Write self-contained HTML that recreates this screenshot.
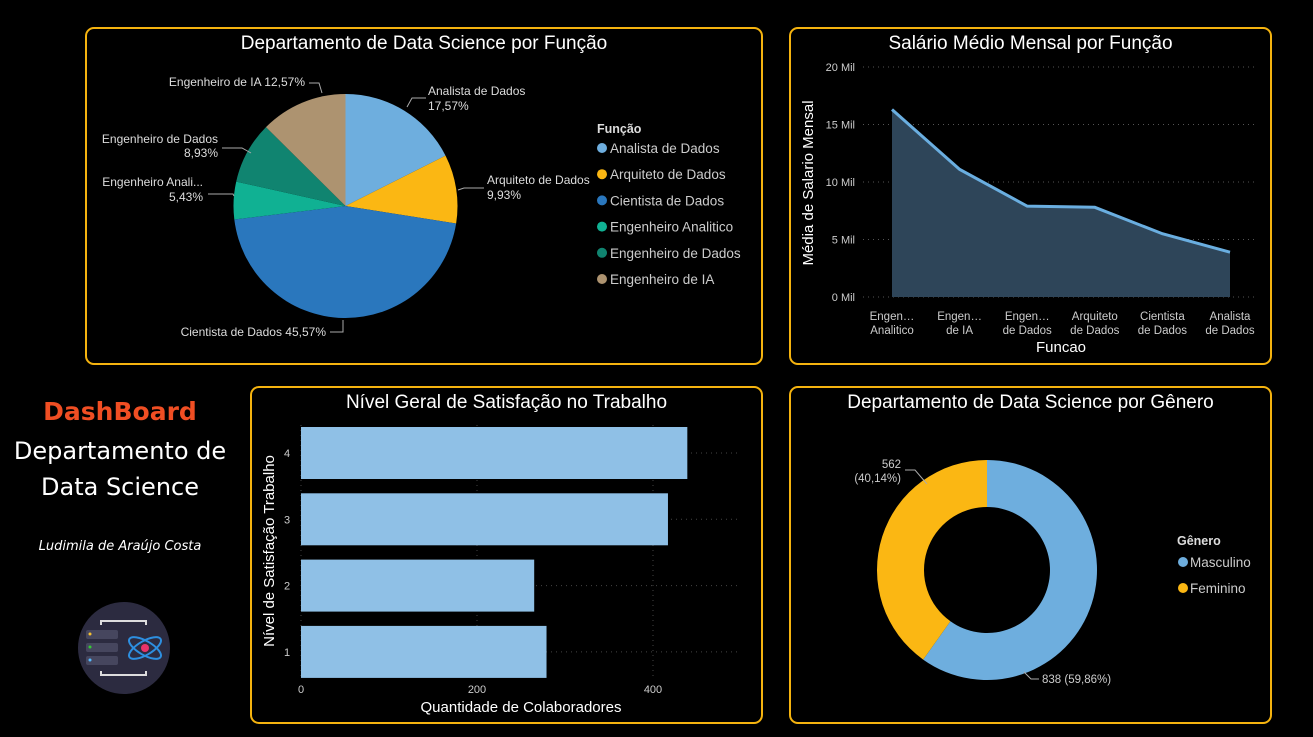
<!DOCTYPE html>
<html><head><meta charset="utf-8"><style>
body{margin:0;background:#000;width:1313px;height:737px;overflow:hidden;font-family:"Liberation Sans",Arial,sans-serif;position:relative}
.panel{position:absolute;border:2px solid #f5b30f;border-radius:9px;box-sizing:border-box}
.title{position:absolute;left:0;right:0;text-align:center;color:#fff;font-size:19px;top:4px}
svg{position:absolute;left:0;top:0}
svg text{font-family:"Liberation Sans",Arial,sans-serif}
</style></head><body>
<div class="panel" style="left:85px;top:27px;width:678px;height:338px"><div class="title">Departamento de Data Science por Função</div></div>
<div class="panel" style="left:789px;top:27px;width:483px;height:338px"><div class="title">Salário Médio Mensal por Função</div></div>
<div class="panel" style="left:250px;top:386px;width:513px;height:338px"><div class="title">Nível Geral de Satisfação no Trabalho</div></div>
<div class="panel" style="left:789px;top:386px;width:483px;height:338px"><div class="title">Departamento de Data Science por Gênero</div></div>

<div style="position:absolute;left:0;width:240px;top:397px;text-align:center;color:#f04e23;font-size:25px;font-weight:bold;font-family:'Comic Sans MS','DejaVu Sans',sans-serif">DashBoard</div>
<div style="position:absolute;left:0;width:240px;top:433px;text-align:center;color:#fff;font-size:24px;line-height:36px;font-family:'Comic Sans MS','DejaVu Sans',sans-serif">Departamento de<br>Data Science</div>
<div style="position:absolute;left:0;width:240px;top:539px;text-align:center;color:#fff;font-size:13px;font-style:italic;font-family:'Comic Sans MS','DejaVu Sans',sans-serif">Ludimila de Araújo Costa</div>

<svg width="1313" height="737" id="s">
<g>
<circle cx="124" cy="648" r="46" fill="#2c2b40"/>
<path d="M101 625v-4h45v4M101 671v4h45v-4" stroke="#ddd" stroke-width="2" fill="none"/>
<rect x="86" y="630" width="32" height="9" rx="2" fill="#46465e"/><rect x="86" y="643" width="32" height="9" rx="2" fill="#46465e"/><rect x="86" y="656" width="32" height="9" rx="2" fill="#46465e"/>
<circle cx="90" cy="634" r="1.5" fill="#f5c030"/><circle cx="90" cy="647" r="1.5" fill="#3c3"/><circle cx="90" cy="660" r="1.5" fill="#5bf"/>
<ellipse cx="145" cy="648" rx="18" ry="7" stroke="#2d8fe0" stroke-width="2" fill="none" transform="rotate(30 145 648)"/>
<ellipse cx="145" cy="648" rx="18" ry="7" stroke="#2d8fe0" stroke-width="2" fill="none" transform="rotate(-30 145 648)"/>
<circle cx="145" cy="648" r="4" fill="#e8336a"/>
</g>
</svg>
<script>
const NS="http://www.w3.org/2000/svg",S=document.getElementById('s');
function el(t,a,p){const e=document.createElementNS(NS,t);for(const k in a)e.setAttribute(k,a[k]);(p||S).appendChild(e);return e;}
function tx(x,y,s,a){const e=el('text',Object.assign({x:x,y:y,fill:'#ddd','font-size':12},a||{}));e.textContent=s;return e;}

// ---------- Pie ----------
const pieCats=["Analista de Dados","Arquiteto de Dados","Cientista de Dados","Engenheiro Analitico","Engenheiro de Dados","Engenheiro de IA"];
const pieVals=[17.57,9.93,45.57,5.43,8.93,12.57];
const pieColors=["#6eaede","#fbb713","#2a77bd","#10b193","#108470","#ad9370"];
(function(){
 const cx=345.5,cy=206,r=112;let a=0;const tot=pieVals.reduce((p,c)=>p+c,0);
 pieVals.forEach((v,i)=>{
  const a0=a/tot*2*Math.PI,a1=(a+v)/tot*2*Math.PI;a+=v;
  const x0=cx+r*Math.sin(a0),y0=cy-r*Math.cos(a0),x1=cx+r*Math.sin(a1),y1=cy-r*Math.cos(a1);
  const p=el('path',{d:`M${cx} ${cy}L${x0} ${y0}A${r} ${r} 0 ${a1-a0>Math.PI?1:0} 1 ${x1} ${y1}Z`,fill:pieColors[i]});
  
  
 });
 const lab=[[428,95,"Analista de Dados",428,110,pieVals[0],"M407 107l5-9h14"],[487,184,"Arquiteto de Dados",487,199,pieVals[1],"M458 190l6-2h20"],
  [326,336,"Cientista de Dados "+"45,57%",null,null,null,"M330 332h13v-12"],[203,186,"Engenheiro Anali...",203,201,pieVals[3],"M208 194h25l1 2"],
  [218,143,"Engenheiro de Dados",218,157,pieVals[4],"M222 148h20l9 5"],[305,86,"Engenheiro de IA 12,57%",null,null,null,"M309 83h10l3 10"]];
 lab.forEach((l,i)=>{
  el('path',{d:l[6],stroke:'#aaa',fill:'none'});
  const anchor=(i==0||i==1)?'start':'end';
  tx(l[0],l[1],l[2],{'text-anchor':anchor,'font-size':12});
  if(l[3])tx(l[3],l[4],l[5].toFixed(2).replace('.',',')+'%',{'text-anchor':anchor,'font-size':12});
 });
 tx(597,133,"Função",{'font-weight':'bold','font-size':12.5,fill:'#ddd'});
 pieCats.forEach((c,i)=>{
  const y=148+i*26.2;
  el('circle',{cx:602,cy:y,r:5,fill:pieColors[i]});
  const t=tx(610,y+5,c,{'font-size':13.5,fill:'#ccc'});
  
  
 });
})();

// ---------- Area ----------
const areaCats=[["Engen…","Analitico"],["Engen…","de IA"],["Engen…","de Dados"],["Arquiteto","de Dados"],["Cientista","de Dados"],["Analista","de Dados"]];
const areaVals=[16.3,11.1,7.9,7.8,5.5,3.9];
const areaTicks=[0,5,10,15,20];
(function(){
 const y=v=>297-v*11.5,x=i=>892+i*67.6;
 areaTicks.forEach(t=>{el('line',{x1:863,x2:1258,y1:y(t),y2:y(t),stroke:'#555','stroke-dasharray':'1 4'});
  tx(855,y(t)+4,t+" Mil",{'text-anchor':'end','font-size':11,fill:'#ccc'});});
 let d=areaVals.map((v,i)=>(i?'L':'M')+x(i)+' '+y(v)).join('');
 const a=el('path',{d:d+`L${x(areaVals.length-1)} ${y(0)}L${x(0)} ${y(0)}Z`,fill:'#2e4559'});
 
 
 const l=el('path',{d:d,stroke:'#6aaee0','stroke-width':3,fill:'none'});
 
 
 areaCats.forEach((c,i)=>{tx(x(i),320,c[0],{'text-anchor':'middle','font-size':11.5,fill:'#ccc'});tx(x(i),334,c[1],{'text-anchor':'middle','font-size':11.5,fill:'#ccc'});});
 tx(1061,352,"Funcao",{'text-anchor':'middle','font-size':15,fill:'#fff'});
 tx(0,0,"Média de Salario Mensal",{'text-anchor':'middle','font-size':15,fill:'#fff',transform:'translate(813,183) rotate(-90)'});
})();

// ---------- Bars ----------
const barCats=["4","3","2","1"];
const barVals=[439,417,265,279];
const barTicks=[0,200,400];
(function(){
 const x=v=>301+v*0.88,yc=i=>453+i*66.3;
 barTicks.forEach(t=>{el('line',{x1:x(t),x2:x(t),y1:425,y2:678,stroke:'#444','stroke-dasharray':'1 4'});tx(x(t),693,t,{'text-anchor':'middle','font-size':11,fill:'#ccc'});});
 barCats.forEach((c,i)=>{
  el('line',{x1:301,x2:740,y1:yc(i),y2:yc(i),stroke:'#444','stroke-dasharray':'1 4'});
  const r=el('rect',{x:301,y:yc(i)-26,width:x(barVals[i])-301,height:52,fill:'#8fc0e6'});
  
  
  tx(287,yc(i)+4,c,{'text-anchor':'middle','font-size':11,fill:'#ccc'});
 });
 tx(521,712,"Quantidade de Colaboradores",{'text-anchor':'middle','font-size':15,fill:'#fff'});
 tx(0,0,"Nível de Satisfação Trabalho",{'text-anchor':'middle','font-size':15,fill:'#fff',transform:'translate(274,551) rotate(-90)'});
})();

// ---------- Donut ----------
const donutCats=["Masculino","Feminino"];
const donutVals=[838,562];
const donutColors=["#6eaede","#fbb713"];
(function(){
 const cx=987,cy=570,R=110,r=63;const tot=donutVals.reduce((a,b)=>a+b,0);let acc=0;
 donutVals.forEach((v,i)=>{
  const a0=acc/tot*2*Math.PI,a1=(acc+v)/tot*2*Math.PI;acc+=v;const lg=a1-a0>Math.PI?1:0;
  const P=(rr,a)=>[cx+rr*Math.sin(a),cy-rr*Math.cos(a)];
  const [x0,y0]=P(R,a0),[x1,y1]=P(R,a1),[x2,y2]=P(r,a1),[x3,y3]=P(r,a0);
  const p=el('path',{d:`M${x0} ${y0}A${R} ${R} 0 ${lg} 1 ${x1} ${y1}L${x2} ${y2}A${r} ${r} 0 ${lg} 0 ${x3} ${y3}Z`,fill:donutColors[i]});
  
  
 });
 const pct=v=>(v/tot*100).toFixed(2).replace('.',',')+'%';
 el('path',{d:'M1024 672l7 7h8',stroke:'#aaa',fill:'none'});
 tx(1042,683,donutVals[0]+" ("+pct(donutVals[0])+")",{'font-size':11.5,fill:'#ccc'});
 el('path',{d:'M905 470h10l12 14',stroke:'#aaa',fill:'none'});
 tx(901,468,donutVals[1],{'text-anchor':'end','font-size':11.5,fill:'#ccc'});
 tx(901,482,"("+pct(donutVals[1])+")",{'text-anchor':'end','font-size':11.5,fill:'#ccc'});
 tx(1177,545,"Gênero",{'font-weight':'bold','font-size':12.5,fill:'#ddd'});
 donutCats.forEach((c,i)=>{
  const y=562+i*26;el('circle',{cx:1183,cy:y,r:5,fill:donutColors[i]});
  const t=tx(1190,y+5,c,{'font-size':13.5,fill:'#ccc'});
  
  
 });
})();
</script>
</body></html>
